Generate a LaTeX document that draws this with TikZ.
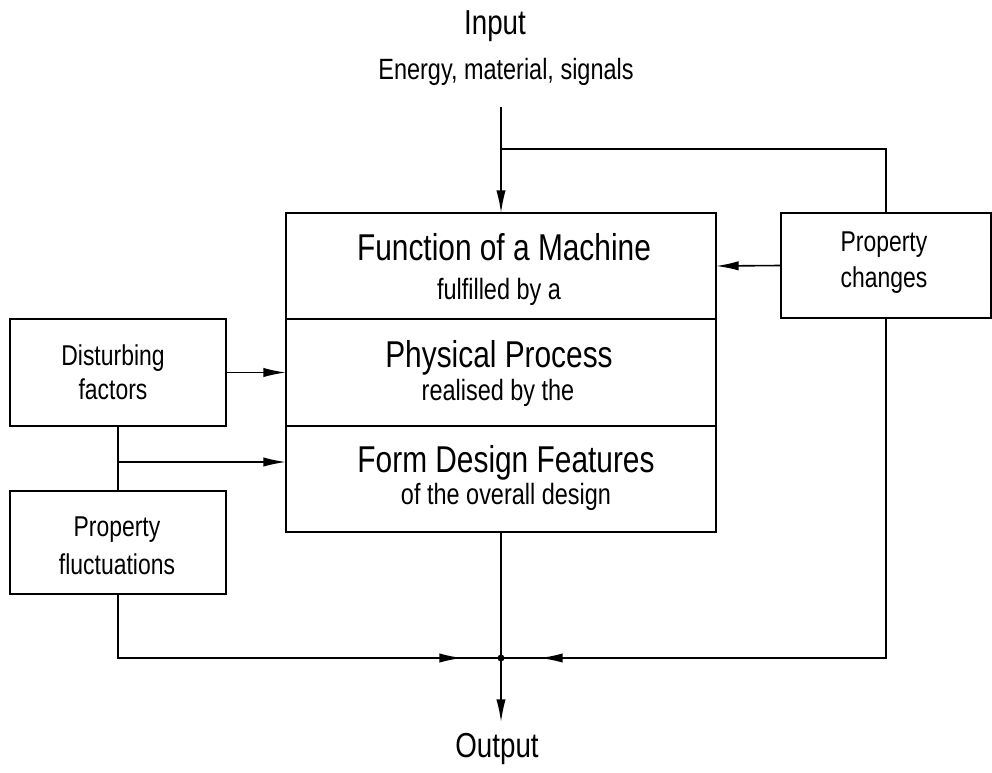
\documentclass[tikz,border=0pt]{standalone}
\usepackage{fontspec}
\setmainfont[FakeStretch=0.8]{Liberation Sans}
\usetikzlibrary{arrows.meta,calc}
\begin{document}
\begin{tikzpicture}[x=0.75pt,y=-0.75pt,
  box/.style={draw, line width=1.2pt, inner sep=0pt, outer sep=0pt},
  conn/.style={line width=1.2pt},
  arr/.style={line width=1.2pt, -{Latex[length=17pt,width=7pt]}},
  big/.style={font=\fontsize{28}{32}\selectfont, anchor=base, inner sep=0pt},
  small/.style={font=\fontsize{22}{26}\selectfont, anchor=base, inner sep=0pt},
  side/.style={font=\fontsize{21.5}{26}\selectfont, anchor=base, inner sep=0pt},
  io/.style={font=\fontsize{26}{30}\selectfont, anchor=base, inner sep=0pt}]
\useasboundingbox (0,0) rectangle (992,773);

% boxes
\node[box, minimum width=322.5pt, minimum height=79.5pt]  (fn) at (501,266) {};
\node[box, minimum width=322.5pt, minimum height=80.25pt] (pp) at (501,372.5) {};
\node[box, minimum width=322.5pt, minimum height=79.5pt]  (fd) at (501,479) {};
\node[box, minimum width=162pt, minimum height=80.25pt]   (df) at (118,372.5) {};
\node[box, minimum width=162pt, minimum height=77.25pt]   (pf) at (118,542.5) {};
\node[box, minimum width=157.5pt, minimum height=78.75pt] (pc) at (886,265.5) {};

% texts
\node[big]   (t1)  at (504,261) {Function of a Machine};
\node[small] (t1s) at (499,300) {fulfilled by a};
\node[big]   (t2)  at (499,368) {Physical Process};
\node[small] (t2s) at (498,401) {realised by the};
\node[big]   (t3)  at (506,472) {Form Design Features};
\node[small] (t3s) at (506,504) {of the overall design};
\node[side]  (d1)  at (113,366) {Disturbing};
\node[side]  (d2)  at (113,400) {factors};
\node[side]  (f1)  at (117,536) {Property};
\node[side]  (f2)  at (117,574) {fluctuations};
\node[side]  (c1)  at (884,252) {Property};
\node[side]  (c2)  at (884,288) {changes};
\node[io]    (in)  at (495,35) {Input};
\node[small] (en)  at (506,80) {Energy, material, signals};
\node[io]    (ou)  at (497,757) {Output};

% coordinates
\coordinate (inp) at (501,107);
\coordinate (jt)  at (501,149);
\coordinate (jn)  at (501,658);
\coordinate (br)  at (118,462);
\coordinate (out) at (501,722);

% connectors
\draw[arr]  (inp) -- (fn.north);
\draw[conn] (jt) -| (pc.north);
\draw[arr]  (pc.west) -- (fn.east);
\draw[arr]  (df.east) -- (pp.west);
\draw[conn] (df.south) -- (pf.north);
\draw[arr]  (br) -- (br -| fd.west);
\draw[conn] (pf.south) |- (jn);
\draw[arr]  (pf.south |- jn) -- ($(jn)+(-39,0)$);
\draw[conn] (pc.south) |- (jn);
\draw[arr]  (pc.south |- jn) -- ($(jn)+(39,0)$);
\draw[conn] (fd.south) -- (jn);
\draw[arr]  (jn) -- (out);
\fill (jn) circle (2.6pt);
\end{tikzpicture}
\end{document}
